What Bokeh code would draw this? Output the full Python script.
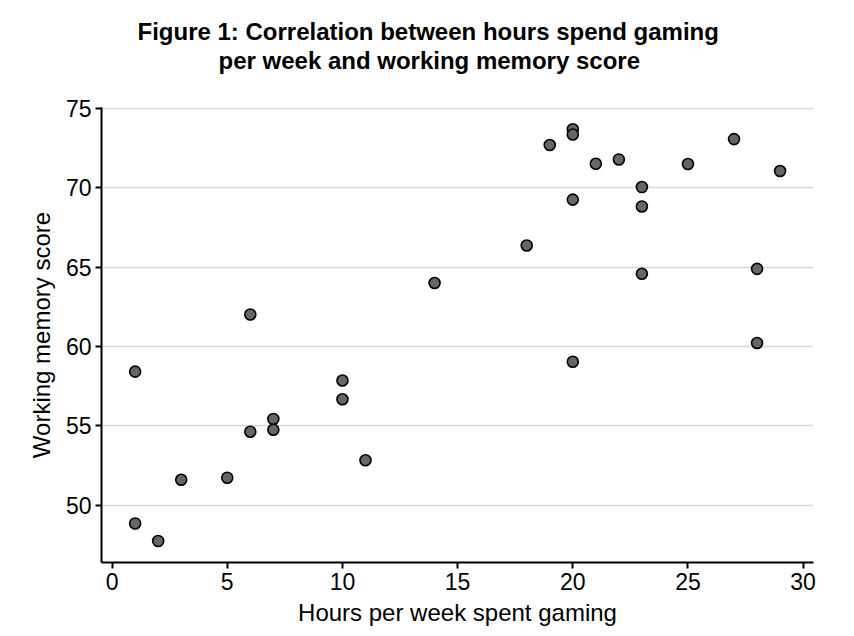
from bokeh.embed import file_html
from bokeh.models import Range1d, FixedTicker, Title
from bokeh.plotting import figure
from bokeh.resources import INLINE

# Hours per week spent gaming vs working memory score
hours = [1, 1, 2, 3, 5, 6, 6, 7, 7, 10, 10, 11, 14, 18, 19, 20, 20, 20, 20,
         21, 22, 23, 23, 23, 25, 27, 28, 28, 29]
score = [58.42, 48.86, 47.75, 51.61, 51.74, 62.02, 54.63, 55.44, 54.76, 57.86,
         56.68, 52.84, 64.0, 66.36, 72.69, 73.68, 73.35, 69.25, 59.04,
         71.51, 71.78, 70.04, 68.82, 64.58, 71.49, 73.06, 64.89, 60.22, 71.05]

x_ticks = [0, 5, 10, 15, 20, 25, 30]
y_ticks = [50, 55, 60, 65, 70, 75]

title_line1 = "Figure 1: Correlation between hours spend gaming"
title_line2 = "per week and working memory score"

FONT = "Liberation Sans"

p = figure(width=846, height=628,
           x_range=Range1d(-0.46, 30.45), y_range=Range1d(46.4, 75.05),
           output_backend="svg", toolbar_location=None,
           min_border_left=101, min_border_right=33,
           min_border_top=107, min_border_bottom=59)

# Titles added "above" stack outward from the plot: blank spacer, line 2,
# line 1. Left aligned with offsets so both lines sit centred on the picture.
p.title.text = ""
p.add_layout(Title(text=" ", text_font=FONT, text_font_size="24px",
                   standoff=5), "above")
p.add_layout(Title(text=title_line2, align="left", offset=117,
                   text_font=FONT, text_font_size="24px",
                   text_font_style="bold", text_color="black",
                   standoff=0), "above")
p.add_layout(Title(text=title_line1, align="left", offset=36,
                   text_font=FONT, text_font_size="24px",
                   text_font_style="bold", text_color="black",
                   standoff=0), "above")

p.outline_line_color = None
p.background_fill_color = "white"
p.border_fill_color = "white"

p.scatter(hours, score, size=11, fill_color="#666666",
          line_color="black", line_width=1.6)

# axes
p.xaxis.axis_label = "Hours per week spent gaming"
p.yaxis.axis_label = "Working memory score"
p.xaxis.ticker = FixedTicker(ticks=x_ticks)
p.yaxis.ticker = FixedTicker(ticks=y_ticks)
for ax in (p.xaxis, p.yaxis):
    ax.axis_line_width = 2
    ax.axis_line_color = "black"
    ax.major_tick_line_width = 2
    ax.major_tick_line_color = "black"
    ax.major_tick_in = 0
    ax.major_tick_out = 6
    ax.minor_tick_line_color = None
    ax.major_label_text_font = FONT
    ax.major_label_text_font_size = "23px"
    ax.major_label_text_color = "black"
    ax.axis_label_text_font = FONT
    ax.axis_label_text_font_size = "24px"
    ax.axis_label_text_font_style = "normal"
    ax.axis_label_text_color = "black"
    ax.major_label_standoff = 4
p.xaxis.axis_label_standoff = 6
p.yaxis.axis_label_standoff = 8
p.yaxis.major_label_orientation = "horizontal"

# grid: horizontal lines only
p.xgrid.grid_line_color = None
p.ygrid.grid_line_color = "#d9d9d9"
p.ygrid.grid_line_width = 1.5

open("out.html", "w").write(file_html(p, INLINE))
